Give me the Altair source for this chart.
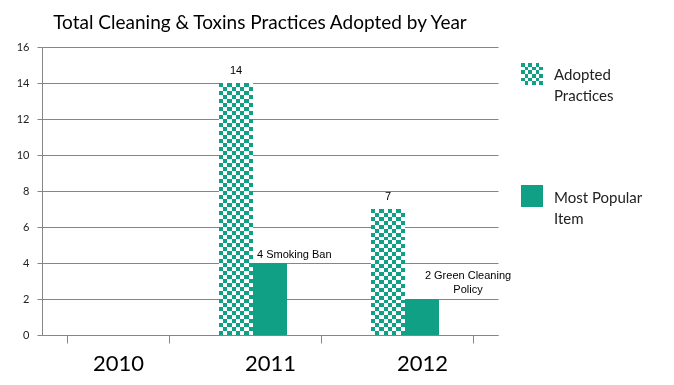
import textwrap
import altair as alt
import pandas as pd

# ---- data ----
years = ["2010", "2011", "2012"]
series_names = ["Adopted Practices", "Most Popular Item"]
adopted = [0, 14, 7]
popular = [0, 4, 2]
popular_items = ["", "Smoking Ban", "Green Cleaning Policy"]
y_ticks = [0, 2, 4, 6, 8, 10, 12, 14, 16]
title_text = "Total Cleaning & Toxins Practices Adopted by Year"

TEAL = "#10a086"
GRID = "#868686"
FONT = "Lato"
W, H = 456, 288

rows = []
for yr, a, p, item in zip(years, adopted, popular, popular_items):
    rows.append({"year": yr, "series": series_names[0], "value": a, "label": str(a)})
    lab = "\n".join(textwrap.wrap(f"{p} {item}", 16))
    rows.append({"year": yr, "series": series_names[1], "value": p, "label": lab})
df = pd.DataFrame(rows)

slots = series_names + [" "]


def stripes(n, axis):
    stops = []
    for i in range(n):
        c = "#000000" if i % 2 == 0 else "#ffffff"
        stops.append({"offset": i / n, "color": c})
        stops.append({"offset": (i + 1) / n, "color": c})
    return {"gradient": "linear", "stops": stops,
            "x1": 0, "y1": 0,
            "x2": 1 if axis == "x" else 0,
            "y2": 1 if axis == "y" else 0}


base = alt.Chart(df).encode(
    x=alt.X("year:N", sort=years,
            scale=alt.Scale(domain=years, paddingInner=50 / 152, paddingOuter=25 / 152),
            axis=alt.Axis(title="", labelAngle=0, labelFont=FONT, labelFontSize=22,
                          labelColor="#000000", labelPadding=10, tickBand="extent",
                          tickSize=8, tickColor=GRID, domainColor=GRID, grid=False)),
    xOffset=alt.XOffset("series:N", scale=alt.Scale(domain=slots)),
    y=alt.Y("value:Q", scale=alt.Scale(domain=[0, 16], nice=False),
            axis=alt.Axis(title="", values=y_ticks, labelFont=FONT, labelFontSize=11,
                          labelColor="#222222", labelPadding=8, tickSize=5,
                          tickColor=GRID, domainColor=GRID, gridColor=GRID,
                          gridOpacity=1, grid=True)),
)

is_adopted = (alt.datum.series == series_names[0]) & (alt.datum.value > 0)
is_popular = (alt.datum.series == series_names[1]) & (alt.datum.value > 0)

px_per_unit = H / 16.0
SQ = 4.0
layers = []
# checker: horizontal stripes (per bar), vertical stripes (difference), teal (lighten)
for yr, a in zip(years, adopted):
    if a <= 0:
        continue
    n = max(2, int(round(a * px_per_unit / SQ)))
    layers.append(
        base.transform_filter((alt.datum.series == series_names[0]) & (alt.datum.year == yr))
        .mark_bar(fill=stripes(n, "y"))
    )
layers.append(base.transform_filter(is_adopted).mark_bar(fill=stripes(8, "x"), blend="difference"))
layers.append(base.transform_filter(is_adopted).mark_bar(fill=TEAL, blend="lighten"))
layers.append(base.transform_filter(is_popular).mark_bar(fill=TEAL))

# data labels
layers.append(
    base.transform_filter(is_adopted).mark_text(
        font="Liberation Sans", fontSize=11, color="#000000", baseline="middle", dy=-12
    ).encode(text="label:N")
)
label_pos = {"2011": dict(dx=-13, dy=-8, align="left"),
             "2012": dict(dx=46, dy=-23, align="center")}
for yr, p in zip(years, popular):
    if p <= 0:
        continue
    pos = label_pos.get(yr, dict(dx=0, dy=-8, align="center"))
    layers.append(
        base.transform_filter((alt.datum.series == series_names[1]) & (alt.datum.year == yr))
        .mark_text(font="Liberation Sans", fontSize=11, color="#000000", baseline="middle",
                   lineBreak="\n", lineHeight=14, **pos)
        .encode(text="label:N")
    )

# legend (drawn manually)
legend_df = pd.DataFrame({
    "series": series_names,
    "text": ["\n".join(textwrap.wrap(s, 12)) for s in series_names],
})
leg = alt.Chart(legend_df)
SW_X, SW_X2 = 479, 501
sw_y = [16, 138]
txt_y = [33, 156]
# checker swatch
f0 = alt.datum.series == series_names[0]
sw = dict(x=alt.value(SW_X), x2=alt.value(SW_X2), y=alt.value(sw_y[0]), y2=alt.value(sw_y[0] + 22))
layers.append(leg.transform_filter(f0).mark_rect(fill=stripes(6, "y")).encode(**sw))
layers.append(leg.transform_filter(f0).mark_rect(fill=stripes(6, "x"), blend="difference").encode(**sw))
layers.append(leg.transform_filter(f0).mark_rect(fill=TEAL, blend="lighten").encode(**sw))
# solid swatch
f1 = alt.datum.series == series_names[1]
layers.append(leg.transform_filter(f1).mark_rect(fill=TEAL).encode(
    x=alt.value(SW_X), x2=alt.value(SW_X2), y=alt.value(sw_y[1]), y2=alt.value(sw_y[1] + 22)))
for i, s in enumerate(series_names):
    layers.append(
        leg.transform_filter(alt.datum.series == s)
        .mark_text(font=FONT, fontSize=15, color="#222222", align="left", baseline="alphabetic",
                   lineBreak="\n", lineHeight=21)
        .encode(text="text:N", x=alt.value(512), y=alt.value(txt_y[i]))
    )

chart = alt.layer(*layers).properties(
    width=W, height=H,
    title=alt.TitleParams(title_text, font=FONT, fontSize=19, fontWeight="normal",
                          color="#000000", anchor="middle", frame="group", dx=-10, offset=8),
    padding={"left": 34, "top": 39, "right": 160, "bottom": 43},
    autosize=alt.AutoSizeParams(type="none"),
).configure_view(stroke="transparent")

chart.save("out.html", embed_options={"renderer": "svg", "actions": False})
